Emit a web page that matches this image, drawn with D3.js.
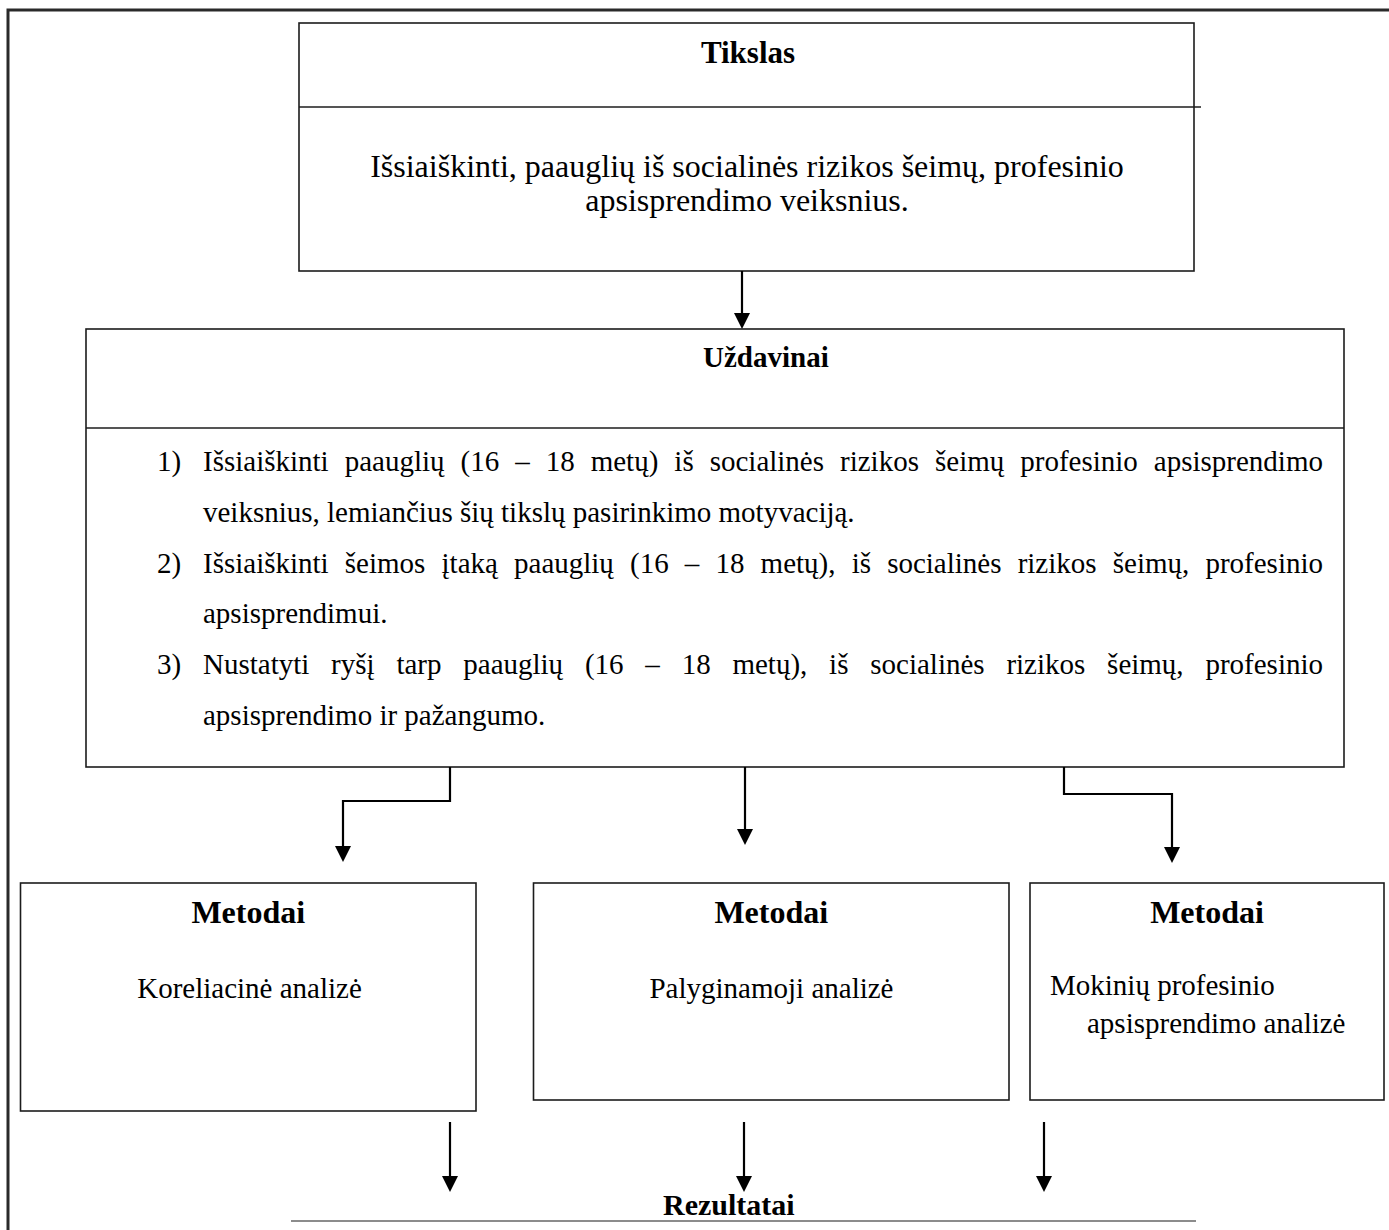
<!DOCTYPE html>
<html>
<head>
<meta charset="utf-8">
<script src="https://cdn.jsdelivr.net/npm/d3@7"></script>
<style>
  html, body { margin: 0; padding: 0; background: #fff; }
  svg { display: block; }
  text { font-family: "Liberation Serif", "Times New Roman", serif; fill: #000; }
</style>
</head>
<body>
<svg id="chart" width="1389" height="1230"></svg>
<script>
// ---- content ----
const goalTitle = "Tikslas";
const goalLines = [
  "Išsiaiškinti, paauglių iš socialinės rizikos šeimų, profesinio",
  "apsisprendimo veiksnius."
];
const tasksTitle = "Uždavinai";
const taskNumbers = ["1)", "2)", "3)"];
const taskLines = [
  ["Išsiaiškinti paauglių (16 – 18 metų) iš socialinės rizikos šeimų profesinio apsisprendimo",
   "veiksnius, lemiančius šių tikslų pasirinkimo motyvaciją."],
  ["Išsiaiškinti šeimos įtaką paauglių (16 – 18 metų), iš socialinės rizikos šeimų, profesinio",
   "apsisprendimui."],
  ["Nustatyti ryšį tarp paauglių (16 – 18 metų), iš socialinės rizikos šeimų, profesinio",
   "apsisprendimo ir pažangumo."]
];
const methodTitles = ["Metodai", "Metodai", "Metodai"];
const methodTexts = [
  ["Koreliacinė analizė"],
  ["Palyginamoji analizė"],
  ["Mokinių profesinio", "apsisprendimo analizė"]
];
const resultTitle = "Rezultatai";

// ---- layout ----
const svg = d3.select("#chart");
const boxStroke = "#1c1c1c";

// outer frame
svg.append("rect").attr("x", 8).attr("y", 10).attr("width", 1420).attr("height", 1260)
  .attr("fill", "none").attr("stroke", "#2a2a2a").attr("stroke-width", 3);

function box(x, y, w, h) {
  svg.append("rect").attr("x", x).attr("y", y).attr("width", w).attr("height", h)
    .attr("fill", "none").attr("stroke", boxStroke).attr("stroke-width", 1.6);
}
function hline(x1, x2, y, color) {
  svg.append("line").attr("x1", x1).attr("x2", x2).attr("y1", y).attr("y2", y)
    .attr("stroke", color || boxStroke).attr("stroke-width", 1.6);
}
function arrow(points) {
  const tip = points[points.length - 1];
  const pts = points.slice(0, -1).concat([[tip[0], tip[1] - 14]]);
  svg.append("path").attr("d", d3.line()(pts))
    .attr("fill", "none").attr("stroke", "#000").attr("stroke-width", 2.2);
  svg.append("path")
    .attr("d", d3.line()([[tip[0] - 8, tip[1] - 16], [tip[0] + 8, tip[1] - 16], [tip[0], tip[1]]]) + "Z")
    .attr("fill", "#000");
}
function label(x, y, str, size, bold, anchor) {
  return svg.append("text").attr("x", x).attr("y", y)
    .attr("font-size", size).attr("font-weight", bold ? "bold" : "normal")
    .attr("text-anchor", anchor || "middle").text(str);
}

// Goal box
box(299, 23, 895, 248);
hline(299, 1201, 107);
label(748, 63, goalTitle, 31, true);
goalLines.forEach((l, i) => label(747, 177 + i * 34, l, 32, false));

arrow([[742, 271], [742, 329]]);

// Tasks box
box(86, 329, 1258, 438);
hline(86, 1344, 428);
label(703, 367, tasksTitle, 29, true, "start");

const listLeft = 203, listRight = 1323, numX = 157, lineStep = 50.8, firstBase = 471;
function justified(y, str) {
  const words = str.split(" ");
  const g = svg.append("text").attr("y", y).attr("font-size", 29);
  const spans = words.map(w => g.append("tspan").attr("x", 0).text(w));
  const widths = spans.map(s => s.node().getComputedTextLength());
  const total = d3.sum(widths);
  const gap = (listRight - listLeft - total) / (words.length - 1);
  let x = listLeft;
  spans.forEach((s, i) => { s.attr("x", x); x += widths[i] + gap; });
}
let li = 0;
taskLines.forEach((lines, k) => {
  label(numX, firstBase + li * lineStep, taskNumbers[k], 29, false, "start");
  lines.forEach((l, j) => {
    const y = firstBase + li * lineStep;
    if (j < lines.length - 1) justified(y, l);
    else label(listLeft, y, l, 29, false, "start");
    li++;
  });
});

// branch arrows
arrow([[450, 767], [450, 801], [343, 801], [343, 862]]);
arrow([[745, 767], [745, 845]]);
arrow([[1064, 767], [1064, 794], [1172, 794], [1172, 863]]);

// Method boxes
const mBoxes = [
  {x: 20.5, y: 883, w: 455.5, h: 228},
  {x: 533.5, y: 883, w: 475.5, h: 217},
  {x: 1030, y: 883, w: 354, h: 217}
];
mBoxes.forEach((b, i) => {
  box(b.x, b.y, b.w, b.h);
  label(b.x + b.w / 2, 923, methodTitles[i], 32, true);
});
label(249.5, 998, methodTexts[0][0], 29, false);
label(771.5, 998, methodTexts[1][0], 29, false);
label(1050, 995, methodTexts[2][0], 29, false, "start");
label(1087, 1033, methodTexts[2][1], 29, false, "start");

// result arrows
arrow([[450, 1122], [450, 1192]]);
arrow([[744, 1122], [744, 1192]]);
arrow([[1044, 1122], [1044, 1192]]);

label(663, 1215, resultTitle, 30, true, "start");
hline(291, 1196, 1221, "#666");
</script>
</body>
</html>
